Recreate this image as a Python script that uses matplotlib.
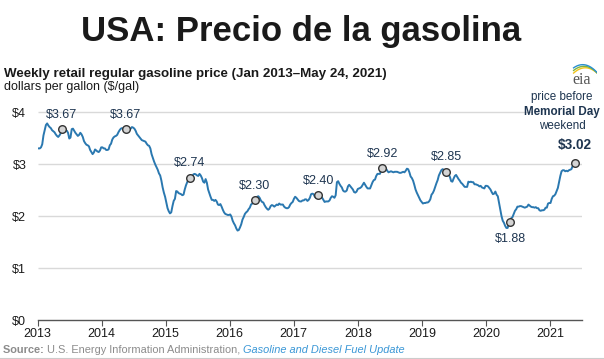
import numpy as np
import pandas as pd
import matplotlib
matplotlib.use("Agg")
import matplotlib.pyplot as plt

# weekly retail regular gasoline price, $/gal, Mondays from 2013-01-07
p2013 = [3.30, 3.30, 3.32, 3.38, 3.55, 3.65, 3.75, 3.78, 3.74, 3.71, 3.69, 3.65,
         3.63, 3.61, 3.57, 3.54, 3.52, 3.55, 3.59, 3.67, 3.66, 3.64, 3.64, 3.64,
         3.60, 3.49, 3.51, 3.67, 3.68, 3.64, 3.60, 3.57, 3.54, 3.56, 3.60, 3.57,
         3.52, 3.44, 3.40, 3.37, 3.36, 3.34, 3.27, 3.23, 3.19, 3.22, 3.28, 3.26,
         3.24, 3.23, 3.26, 3.32]
p2014 = [3.32, 3.30, 3.30, 3.27, 3.27, 3.28, 3.36, 3.39, 3.47, 3.51, 3.53, 3.54,
         3.56, 3.61, 3.65, 3.68, 3.69, 3.68, 3.65, 3.67, 3.67, 3.67, 3.66, 3.68,
         3.71, 3.70, 3.68, 3.64, 3.58, 3.55, 3.52, 3.49, 3.46, 3.45, 3.44, 3.43,
         3.39, 3.36, 3.35, 3.30, 3.19, 3.12, 3.05, 2.99, 2.94, 2.89, 2.82, 2.78,
         2.68, 2.55, 2.45, 2.37]
p2015 = [2.26, 2.15, 2.09, 2.05, 2.07, 2.19, 2.29, 2.33, 2.48, 2.47, 2.44, 2.43,
         2.42, 2.40, 2.41, 2.51, 2.59, 2.65, 2.70, 2.74, 2.74, 2.75, 2.80, 2.81,
         2.80, 2.78, 2.77, 2.81, 2.78, 2.73, 2.66, 2.64, 2.71, 2.64, 2.51, 2.44,
         2.37, 2.31, 2.31, 2.29, 2.31, 2.28, 2.22, 2.21, 2.23, 2.18, 2.12, 2.07,
         2.04, 2.03, 2.02, 2.02]
p2016 = [2.03, 1.99, 1.91, 1.86, 1.82, 1.76, 1.72, 1.73, 1.78, 1.84, 1.93, 1.98,
         2.04, 2.07, 2.09, 2.13, 2.16, 2.22, 2.24, 2.26, 2.30, 2.33, 2.37, 2.38,
         2.35, 2.30, 2.27, 2.26, 2.21, 2.17, 2.14, 2.12, 2.14, 2.19, 2.21, 2.20,
         2.18, 2.20, 2.22, 2.21, 2.24, 2.22, 2.22, 2.22, 2.18, 2.16, 2.15, 2.15,
         2.17, 2.22, 2.25, 2.27]
p2017 = [2.33, 2.37, 2.35, 2.32, 2.29, 2.28, 2.28, 2.30, 2.30, 2.32, 2.32, 2.29,
         2.31, 2.35, 2.42, 2.43, 2.42, 2.37, 2.35, 2.37, 2.40, 2.40, 2.38, 2.35,
         2.31, 2.27, 2.28, 2.28, 2.28, 2.30, 2.35, 2.38, 2.37, 2.35, 2.40, 2.65,
         2.67, 2.62, 2.58, 2.55, 2.49, 2.47, 2.47, 2.49, 2.57, 2.60, 2.57, 2.54,
         2.51, 2.46, 2.45, 2.47]
p2018 = [2.52, 2.53, 2.54, 2.56, 2.60, 2.64, 2.60, 2.56, 2.53, 2.53, 2.53, 2.59,
         2.65, 2.69, 2.70, 2.77, 2.81, 2.81, 2.81, 2.87, 2.92, 2.96, 2.95, 2.91,
         2.87, 2.84, 2.85, 2.86, 2.85, 2.84, 2.85, 2.85, 2.85, 2.84, 2.83, 2.83,
         2.84, 2.85, 2.84, 2.87, 2.91, 2.90, 2.84, 2.76, 2.73, 2.68, 2.60, 2.51,
         2.45, 2.40, 2.35, 2.30, 2.27]
p2019 = [2.24, 2.25, 2.25, 2.26, 2.26, 2.28, 2.32, 2.41, 2.44, 2.49, 2.56, 2.63,
         2.69, 2.78, 2.83, 2.88, 2.90, 2.89, 2.87, 2.85, 2.82, 2.80, 2.75, 2.67,
         2.66, 2.72, 2.77, 2.79, 2.75, 2.71, 2.68, 2.64, 2.62, 2.59, 2.56, 2.56,
         2.56, 2.66, 2.65, 2.66, 2.65, 2.65, 2.61, 2.61, 2.60, 2.59, 2.57, 2.58,
         2.55, 2.54, 2.53, 2.58]
p2020 = [2.58, 2.57, 2.54, 2.51, 2.46, 2.42, 2.43, 2.47, 2.41, 2.38, 2.25, 2.11,
         2.00, 1.91, 1.87, 1.81, 1.77, 1.77, 1.85, 1.88, 1.96, 1.98, 2.04, 2.10,
         2.13, 2.18, 2.18, 2.19, 2.19, 2.18, 2.17, 2.16, 2.17, 2.18, 2.22, 2.20,
         2.18, 2.17, 2.17, 2.16, 2.17, 2.15, 2.15, 2.11, 2.10, 2.11, 2.11, 2.12,
         2.16, 2.16, 2.24, 2.25]
p2021 = [2.25, 2.33, 2.38, 2.39, 2.42, 2.48, 2.54, 2.66, 2.77, 2.86, 2.88, 2.88,
         2.86, 2.87, 2.86, 2.88, 2.89, 2.90, 2.96, 3.00, 3.02]

# price the week before Memorial Day weekend
mem_dates = ["2013-05-20", "2014-05-19", "2015-05-18", "2016-05-23", "2017-05-22",
             "2018-05-21", "2019-05-20", "2020-05-18", "2021-05-24"]
mem_prices = [3.67, 3.67, 2.74, 2.30, 2.40, 2.92, 2.85, 1.88, 3.02]

years = list(range(2013, 2022))
y_ticks = [0, 1, 2, 3, 4]

W, H = 604, 359
BLUE = "#2a78b0"
NAVY = "#1e3550"


def frac_year(d):
    d = pd.DatetimeIndex(d)
    return d.year + (d.dayofyear - 1) / np.where(d.is_leap_year, 366, 365)


def px(x, y):
    return x / W, 1 - y / H


prices = np.array(p2013 + p2014 + p2015 + p2016 + p2017 + p2018 + p2019 + p2020 + p2021)
dates = pd.date_range("2013-01-07", periods=len(prices), freq="7D")
xs = frac_year(dates)
mx = frac_year(pd.to_datetime(mem_dates))

plt.rcParams["font.family"] = ["Liberation Sans", "DejaVu Sans"]
fig = plt.figure(figsize=(W / 100, H / 100), dpi=100)
fig.patch.set_facecolor("white")

x0, x1 = 37.5, 582
ytop = 101.6
ax = fig.add_axes([x0 / W, (H - 320) / H, (x1 - x0) / W, (320 - ytop) / H])
ax.set_xlim(2013, 2021.5)
ax.set_ylim(0, 4.2)

for v in y_ticks[1:]:
    xe = 2020.72 if v == 4 else 2021.5
    ax.hlines(v, 2013, xe, color="#d9d9d9", lw=1.0, zorder=1)

ax.plot(xs, prices, color=BLUE, lw=1.4, zorder=3, solid_joinstyle="round")
ax.scatter(mx, mem_prices, s=30, facecolor="#d4d4d4", edgecolor="#333333",
           linewidths=1.0, zorder=4)

for i, (x, v) in enumerate(zip(mx, mem_prices)):
    lab = f"${v:.2f}"
    if i == len(mx) - 1:
        ax.annotate(lab, (x, v), xytext=(0, 8), textcoords="offset points",
                    ha="center", va="bottom", fontsize=9.8, fontweight="bold", color=NAVY)
    elif v < 2:
        ax.annotate(lab, (x, v), xytext=(0, -8), textcoords="offset points",
                    ha="center", va="top", fontsize=9, color=NAVY)
    else:
        ax.annotate(lab, (x, v), xytext=(0, 6), textcoords="offset points",
                    ha="center", va="bottom", fontsize=9, color=NAVY)

for s in ["top", "right", "left"]:
    ax.spines[s].set_visible(False)
ax.spines["bottom"].set_color("#555555")
ax.spines["bottom"].set_linewidth(1.0)
ax.set_xticks(years)
ax.set_xticklabels([str(y) for y in years])
ax.set_yticks(y_ticks)
ax.set_yticklabels([f"${v}" for v in y_ticks])
ax.tick_params(axis="x", length=4, width=0.8, color="#555555", labelsize=9, pad=2,
               labelcolor="#1a1a1a")
ax.tick_params(axis="y", length=0, labelsize=9, pad=8, labelcolor="#1a1a1a")

fig.text(*px(301, 40.5), "USA: Precio de la gasolina", ha="center", va="baseline",
         fontsize=25, fontweight="bold", color="#1a1a1a")
fig.text(*px(4, 77), "Weekly retail regular gasoline price (Jan 2013\u2013May 24, 2021)",
         ha="left", va="baseline", fontsize=9.6, fontweight="bold", color="#1a1a1a")
fig.text(*px(4, 90), "dollars per gallon ($/gal)", ha="left", va="baseline",
         fontsize=9, color="#1a1a1a")

fig.text(*px(562, 100), "price before", ha="center", va="baseline", fontsize=8.4, color=NAVY)
fig.text(*px(562, 115), "Memorial Day", ha="center", va="baseline", fontsize=8.4,
         fontweight="bold", color=NAVY)
fig.text(*px(562, 129), "weekend", ha="center", va="baseline", fontsize=8.4, color=NAVY)

# eia logo
fig.text(*px(582, 84), "eia", ha="center", va="baseline", fontsize=11.5,
         family="Liberation Serif", color="#555555")
lax = fig.add_axes([571 / W, 1 - 75 / H, 26 / W, 13 / H])
lax.set_axis_off()
lax.set_xlim(0, 1)
lax.set_ylim(0, 1)
t = np.linspace(0.1, 1.0, 30)
for off, c in [(0.0, "#f2c318"), (0.2, "#7cb342"), (0.4, "#2a8fd0")]:
    lax.plot(t, 0.15 + off + 2.0 * (t - 0.1) * (1.0 - t) - off * (t - 0.1), color=c, lw=1.0)

# source line
fig.canvas.draw()
r = fig.canvas.get_renderer()
xcur = 3
for txt, kw in [("Source: ", dict(fontweight="bold", color="#8c8c8c")),
                ("U.S. Energy Information Administration, ", dict(color="#8c8c8c")),
                ("Gasoline and Diesel Fuel Update", dict(style="italic", color="#3a97d6"))]:
    tt = fig.text(*px(xcur, 353), txt, ha="left", va="baseline", fontsize=7.9, **kw)
    bb = tt.get_window_extent(renderer=r)
    xcur += bb.width
fig.add_artist(plt.Line2D([0, 1], [1 - 357.5 / H] * 2, color="#cccccc", lw=0.8))

fig.savefig("out.png", dpi=100, facecolor="white")
